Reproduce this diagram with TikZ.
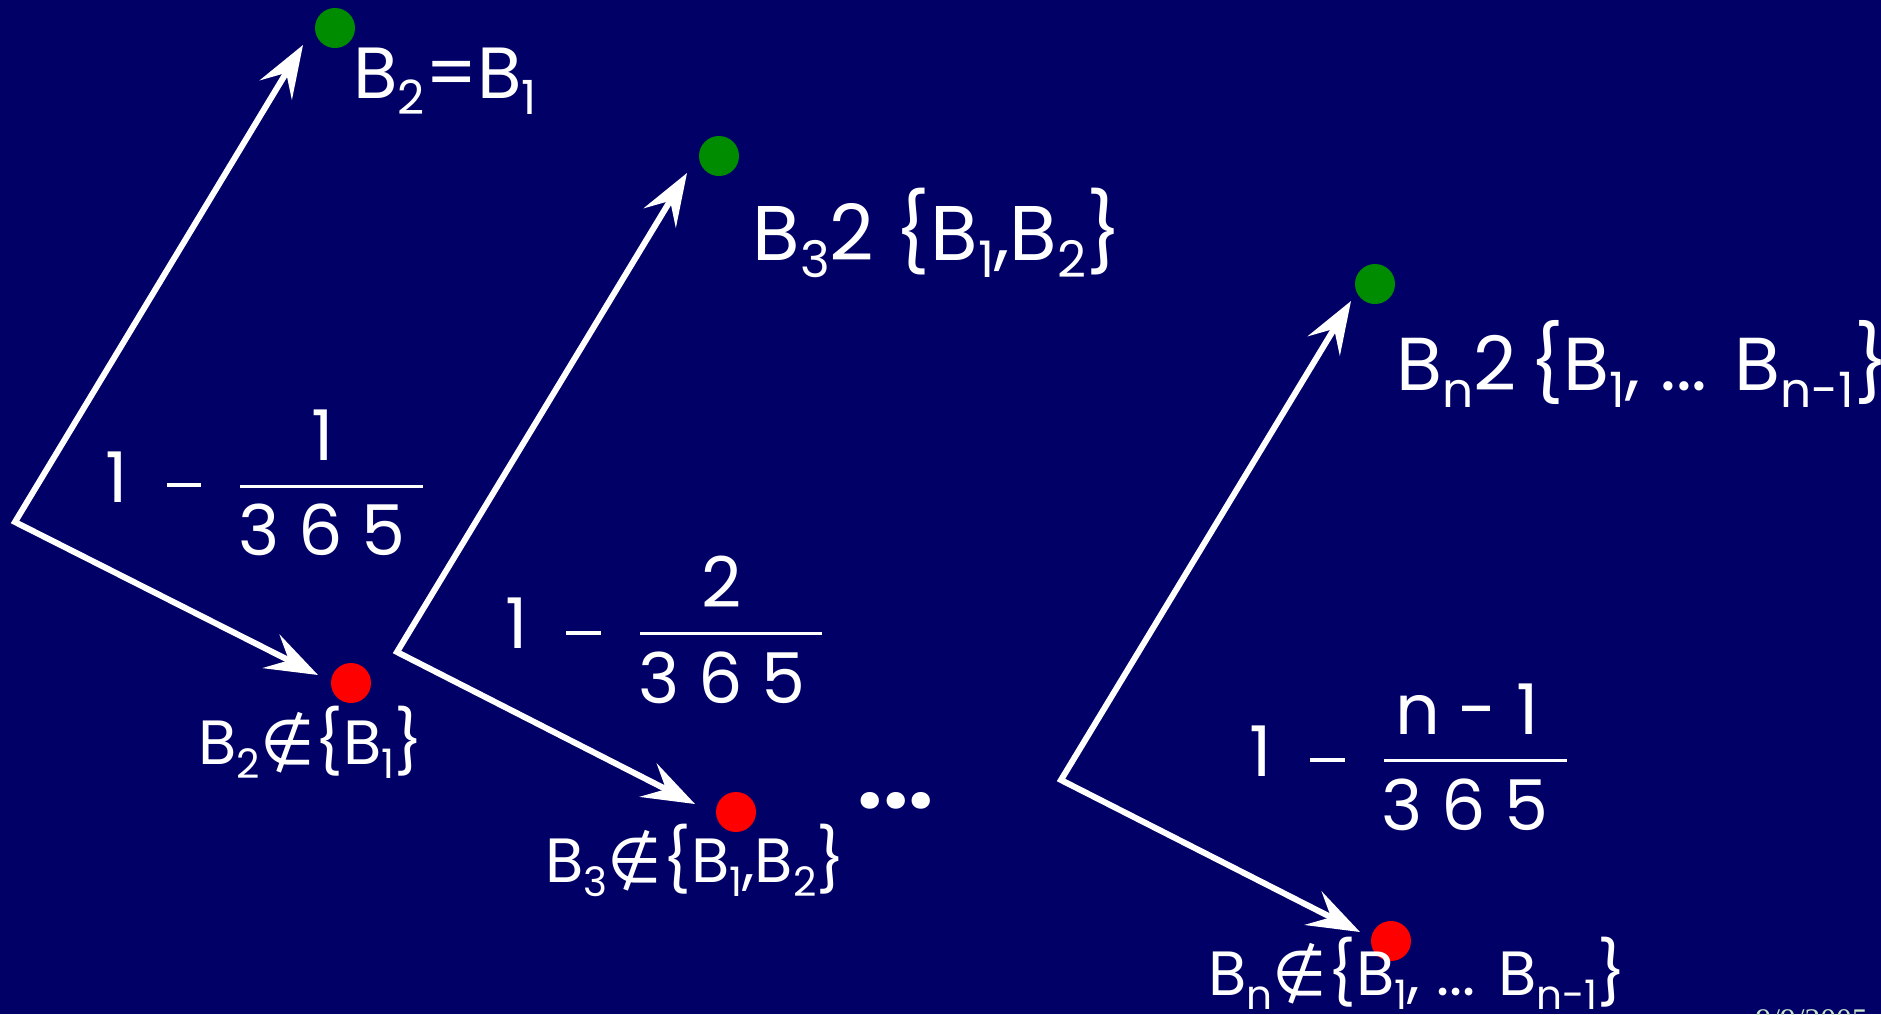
\documentclass[tikz,border=0pt]{standalone}
\usepackage{fontspec}
\usepackage{graphicx}
\setmainfont{Poppins}
\newfontfamily\symfont{DejaVu Sans}
\newfontfamily\datefont{Liberation Serif}
\usetikzlibrary{arrows.meta}
\definecolor{bgblue}{HTML}{000066}
\definecolor{dotgreen}{HTML}{008C00}
\definecolor{dotred}{HTML}{FF0000}
\definecolor{datecol}{HTML}{C8E6C8}
\newcommand\sbs[1]{\raisebox{-0.23em}{\scalebox{0.65}{#1}}}
\newcommand\notinsym{{\symfont\char"2209}}
\tikzset{
  tipshape/.tip={Stealth[length=21pt,width=15pt,inset=8pt]},
  arr/.style={draw=white,line width=2.4pt,line join=miter,{tipshape}-{tipshape}},
  gdot/.style={circle,fill=dotgreen,inner sep=0pt,minimum size=16pt},
  rdot/.style={circle,fill=dotred,inner sep=0pt,minimum size=16pt},
  lbl/.style={text=white,inner sep=0pt,anchor=base west},
  glbl/.style={lbl,font=\fontsize{31}{34}\selectfont},
  rlbl/.style={lbl,font=\fontsize{25}{28}\selectfont},
  frac/.style={text=white,inner sep=0pt,anchor=base,font=\fontsize{28}{30}\selectfont},
  bar/.style={draw=white,line width=1.2pt},
  minusbar/.style={draw=white,line width=1.6pt}
}
\begin{document}
\begin{tikzpicture}[x=0.4pt,y=-0.4pt]
\fill[bgblue] (0,0) rectangle (1881,1014);
\useasboundingbox (0,0) rectangle (1881,1014);
% dots
\node[gdot] (g1) at (335,28) {};
\node[gdot] (g2) at (719,156) {};
\node[gdot] (g3) at (1375,284) {};
\node[rdot] (r1) at (351,683) {};
\node[rdot] (r2) at (736,812) {};
\node[rdot] (r3) at (1391,941) {};
% corners and tips
\coordinate (c1) at (15,522);
\coordinate (u1) at (303,45);
\coordinate (d1) at (318,675);
\coordinate (c2) at (397,652);
\coordinate (u2) at (687,173);
\coordinate (d2) at (695,804);
\coordinate (c3) at (1061,780);
\coordinate (u3) at (1351,301);
\coordinate (d3) at (1360,932);
\draw[arr] (u1) -- (c1) -- (d1);
\draw[arr] (u2) -- (c2) -- (d2);
\draw[arr] (u3) -- (c3) -- (d3);
% labels
\node[lbl,font=\fontsize{29}{32}\selectfont] (t1) at (353,98) {B\sbs{2}=B\sbs{1}};
\node[glbl] (t2) at (752,260) {B\sbs{3}2 \{B\sbs{1},B\sbs{2}\}};
\node[glbl,font=\fontsize{30}{33}\selectfont] (t3) at (1396,390) {B\sbs{n}2\,\{B\sbs{1}, ... B\sbs{n-1}\}};
\node[rlbl] (s1) at (198,764) {B\sbs{2}\notinsym\{B\sbs{1}\}};
\node[rlbl] (s2) at (545,882) {B\sbs{3}\notinsym\{B\sbs{1},B\sbs{2}\}};
\node[rlbl] (s3) at (1208,995) {B\sbs{n}\notinsym\{B\sbs{1}, ... B\sbs{n-1}\}};
\node[frac,font=\fontsize{36}{38}\selectfont\bfseries] (dots) at (896,808) {...};
% fraction 1
\node[frac] (f1one) at (117,502) {1};
\draw[minusbar] (167,485) -- (201,485);
\draw[bar] (240,486) -- (423,486);
\node[frac] (f1num) at (323,460) {1};
\node[frac] (f1den) at (322,555) {3 6 5};
% fraction 2
\node[frac] (f2one) at (517,648) {1};
\draw[minusbar] (566,633) -- (601,633);
\draw[bar] (640,633) -- (822,633);
\node[frac] (f2num) at (722,607) {2};
\node[frac] (f2den) at (722,703) {3 6 5};
% fraction 3
\node[frac] (f3one) at (1261,776) {1};
\draw[minusbar] (1310,760) -- (1345,760);
\draw[bar] (1384,760) -- (1567,760);
\node[frac] (f3num) at (1467,734) {n - 1};
\node[frac] (f3den) at (1465,830) {3 6 5};
% date
\node[inner sep=0pt,anchor=base west,text=datecol,font=\datefont\fontsize{12.6}{14}\selectfont] (date) at (1755,1030) {9/9/2005};
\end{tikzpicture}
\end{document}
